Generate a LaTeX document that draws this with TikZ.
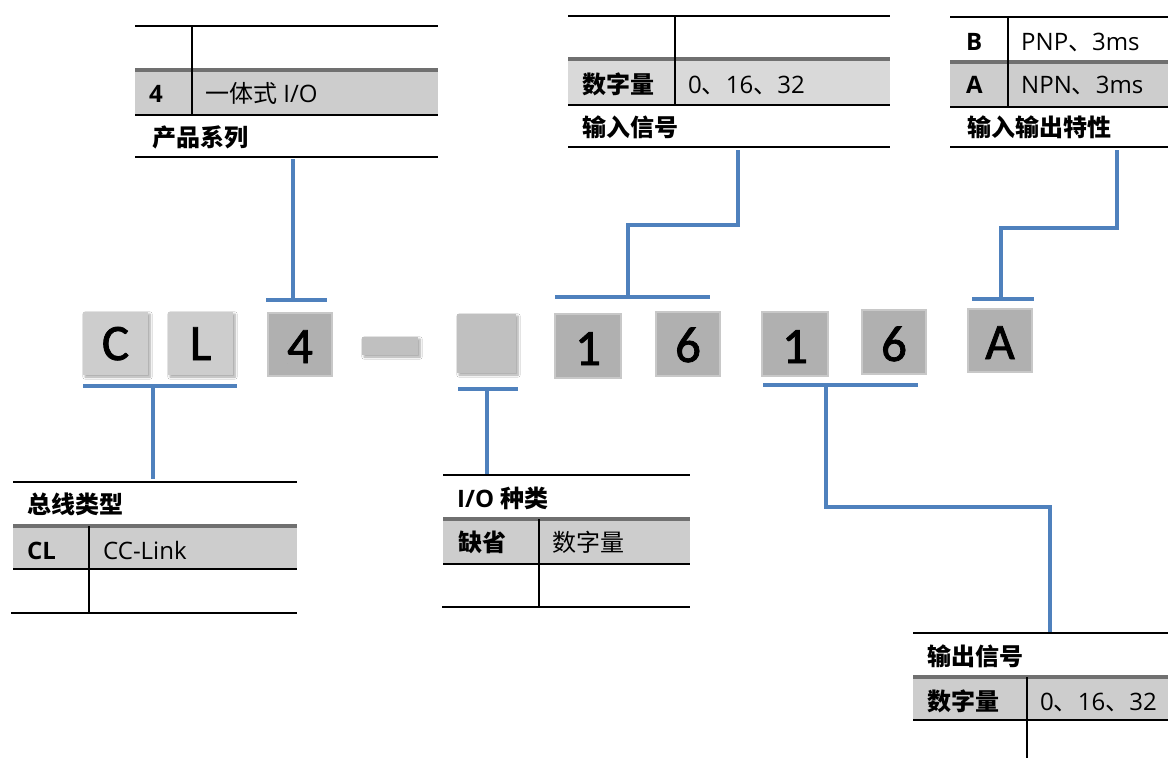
\documentclass[tikz,border=0pt]{standalone}
\usepackage{fontspec}
\setmainfont{Open Sans}
\newfontfamily\cjk{Noto Sans CJK SC}
\newfontfamily\boxfont[FakeBold=1.6]{Carlito}
\usetikzlibrary{shadows.blur}
\definecolor{conblue}{HTML}{4F81BD}
\definecolor{rowgray}{HTML}{CDCDCD}
\definecolor{rowlight}{HTML}{D9D9D9}
\definecolor{sepgray}{HTML}{707070}
\definecolor{boxlight}{HTML}{CDCDCD}
\definecolor{boxmid}{HTML}{C0C0C0}
\definecolor{boxdark}{HTML}{B0B0B0}
\definecolor{boxedge}{HTML}{C8C8C8}
\tikzset{
  tline/.style={line width=2.5pt, black},
  gline/.style={line width=3.5pt, sepgray},
  dline/.style={line width=2pt, black},
  lbl/.style={anchor=base west, inner sep=0pt, font=\fontsize{24}{28}\selectfont},
  conn/.style={conblue, line width=4.5pt},
  shade/.style={blur shadow={shadow xshift=2pt, shadow yshift=-2pt, shadow blur steps=6, shadow opacity=35}},
  keybox/.style={draw=none, inner sep=0pt, minimum width=64pt, minimum height=63pt},
  lightbox/.style={keybox, fill=boxlight, shade},
  midbox/.style={keybox, fill=boxmid, shade},
  darkbox/.style={keybox, fill=boxdark, draw=boxedge, line width=1.2pt},
  keychar/.style={anchor=base, inner sep=0pt, font=\boxfont\fontsize{51}{56}\selectfont},
}
\begin{document}
\begin{tikzpicture}[x=1pt,y=-1pt]
\useasboundingbox[fill=white] (0,0) rectangle (1168,758);

% ---------- code boxes ----------
\node[lightbox, minimum width=65pt] (bC) at (115.5,343.5) {};
\node[lightbox, minimum width=65pt] (bL) at (200.5,343.5) {};
\node[darkbox] (b4) at (300,344.5) {};
\node[midbox, minimum width=56pt, minimum height=18pt] (bdash) at (390,346) {};
\node[midbox, minimum width=59pt, minimum height=59pt] (bE) at (486.5,343.5) {};
\node[darkbox, minimum width=66pt, minimum height=64pt] (b1a) at (588,346) {};
\node[darkbox, minimum height=64pt] (b6a) at (688,344) {};
\node[darkbox, minimum width=66pt, minimum height=64pt] (b1b) at (795,344) {};
\node[darkbox, minimum height=64pt] (b6b) at (894,342) {};
\node[darkbox] (bA) at (1000,340.5) {};

\node[keychar] (tC) at (115.5,360) {C};
\node[keychar] (tL) at (200.5,360) {L};
\node[keychar] (t4) at (300,363) {4};
\node[keychar] (t1a) at (588,365) {1};
\node[keychar] (t6a) at (688,362) {6};
\node[keychar] (t1b) at (795,363) {1};
\node[keychar] (t6b) at (894,361) {6};
\node[keychar] (tA) at (1000,359) {A};

% ---------- table 1: 产品系列 ----------
\fill[rowgray] (135,70) rectangle (438,115);
\draw[tline] (135,26) -- (438,26);
\draw[gline] (135,70) -- (438,70);
\draw[tline] (135,115) -- (438,115);
\draw[tline] (135,157) -- (438,157);
\draw[dline] (192,26) -- (192,115);
\node[lbl, font=\fontsize{24}{28}\selectfont\bfseries] (t1k) at (149,102) {4};
\node[lbl] (t1v) at (205,102) {{\cjk 一体式} I/O};
\node[lbl] (t1t) at (152,146) {\cjk\bfseries 产品系列};

% ---------- table 2: 输入信号 ----------
\fill[rowlight] (568,59) rectangle (890,105);
\draw[tline] (568,16) -- (890,16);
\draw[gline] (568,59) -- (890,59);
\draw[tline] (568,105) -- (890,105);
\draw[tline] (568,147) -- (890,147);
\draw[dline] (675,16) -- (675,105);
\node[lbl] (t2k) at (582,93) {\cjk\bfseries 数字量};
\node[lbl] (t2v) at (688,93) {0{\cjk 、}16{\cjk 、}32};
\node[lbl] (t2t) at (582,136) {\cjk\bfseries 输入信号};

% ---------- table 3: 输入输出特性 ----------
\fill[rowgray] (950,62) rectangle (1168,107);
\draw[tline] (950,17) -- (1168,17);
\draw[gline] (950,62) -- (1168,62);
\draw[tline] (950,107) -- (1168,107);
\draw[tline] (950,147) -- (1168,147);
\draw[dline] (1008,17) -- (1008,107);
\node[lbl, font=\fontsize{24}{28}\selectfont\bfseries] (t3k1) at (966,50) {B};
\node[lbl] (t3v1) at (1021,50) {PNP{\cjk 、}3ms};
\node[lbl, font=\fontsize{24}{28}\selectfont\bfseries] (t3k2) at (966,93) {A};
\node[lbl] (t3v2) at (1021,93) {NPN{\cjk 、}3ms};
\node[lbl] (t3t) at (967,136) {\cjk\bfseries 输入输出特性};

% ---------- table 4: 总线类型 ----------
\fill[rowgray] (13,526) rectangle (297,569);
\draw[tline] (13,482) -- (297,482);
\draw[gline] (13,526) -- (297,526);
\draw[tline] (13,569) -- (297,569);
\draw[tline] (11,613) -- (297,613);
\draw[dline] (89,526) -- (89,613);
\node[lbl] (t4t) at (27,513) {\cjk\bfseries 总线类型};
\node[lbl, font=\fontsize{24}{28}\selectfont\bfseries] (t4k) at (27,559) {CL};
\node[lbl] (t4v) at (103,559) {CC-Link};

% ---------- table 5: I/O 种类 ----------
\fill[rowgray] (443,519) rectangle (690,564);
\draw[tline] (443,475) -- (690,475);
\draw[gline] (443,519) -- (690,519);
\draw[tline] (443,564) -- (690,564);
\draw[tline] (442,607) -- (690,607);
\draw[dline] (539,519) -- (539,607);
\node[lbl] (t5t) at (457,507) {\bfseries I/O {\cjk\bfseries 种类}};
\node[lbl] (t5k) at (458,551) {\cjk\bfseries 缺省};
\node[lbl] (t5v) at (552,551) {\cjk 数字量};

% ---------- table 6: 输出信号 ----------
\fill[rowgray] (913,677) rectangle (1168,720);
\draw[tline] (913,633) -- (1168,633);
\draw[gline] (913,677) -- (1168,677);
\draw[tline] (913,720) -- (1168,720);
\draw[dline] (1027,677) -- (1027,758);
\node[lbl] (t6t) at (927,665) {\cjk\bfseries 输出信号};
\node[lbl] (t6k) at (927,710) {\cjk\bfseries 数字量};
\node[lbl] (t6v) at (1040,710) {0{\cjk 、}16{\cjk 、}32};

% ---------- connectors ----------
\coordinate (bus) at (153,386);
\draw[conn] (83,386) -- (237,386);
\draw[conn] (bus) -- (153,479);

\coordinate (ser) at (293,300);
\draw[conn] (266,300) -- (327,300);
\draw[conn] (ser) -- (293,159);

\coordinate (iot) at (487,389);
\draw[conn] (458,389) -- (518,389);
\draw[conn] (iot) -- (487,474);

\coordinate (insig) at (628,297);
\draw[conn] (555,297) -- (710,297);
\draw[conn] (insig) -- (628,225) -- (738,225) -- (738,150);

\coordinate (outsig) at (826,385);
\draw[conn] (763,385) -- (918,385);
\draw[conn] (outsig) -- (826,507) -- (1050,507) -- (1050,632);

\coordinate (ioch) at (1001,299);
\draw[conn] (972,299) -- (1034,299);
\draw[conn] (ioch) -- (1001,228) -- (1117,228) -- (1117,150);
\end{tikzpicture}
\end{document}
